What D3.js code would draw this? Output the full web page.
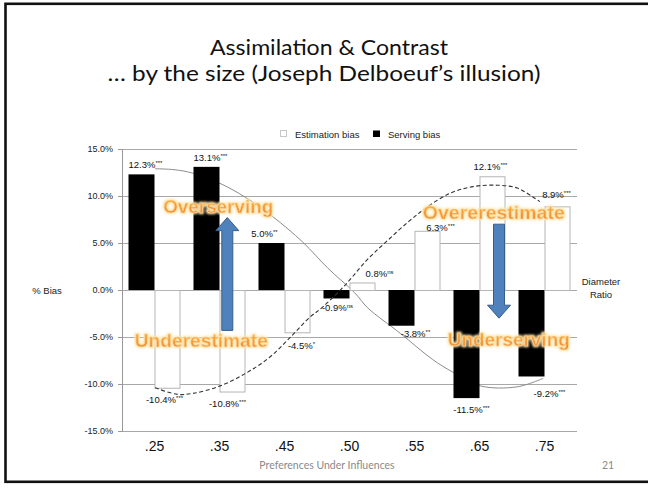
<!DOCTYPE html>
<html>
<head>
<meta charset="utf-8">
<script src="https://cdn.jsdelivr.net/npm/d3@7/dist/d3.min.js"></script>
<style>
  html, body { margin: 0; padding: 0; background: #fff; }
  svg { display: block; }
</style>
</head>
<body>
<svg id="chart" width="648" height="488"></svg>
<script>
// ---- data ----
const categories = [".25", ".35", ".45", ".50", ".55", ".65", ".75"];
const estimationBias = [-10.4, -10.8, -4.5, 0.8, 6.3, 12.1, 8.9];
const servingBias = [12.3, 13.1, 5.0, -0.9, -3.8, -11.5, -9.2];
const estimationSig = ["***", "***", "*", "ns", "***", "***", "***"];
const servingSig = ["***", "***", "**", "ns", "**", "***", "***"];
const yTicks = [-15, -10, -5, 0, 5, 10, 15];
const seriesNames = ["Estimation bias", "Serving bias"];

// hand-drawn trend curves: [category index, % bias]
const servingTrend = [
  [0.01, 12.9], [0.3, 12.8], [0.58, 12.45], [0.99, 11.4], [1.39, 9.9],
  [1.82, 7.8], [2.28, 5.1], [2.67, 2.3], [3.08, -0.3], [3.28, -1.9],
  [3.78, -4.6], [4.28, -7.4], [4.58, -8.7], [5.01, -10.2], [5.58, -10.3],
  [5.98, -9.4]
];
const estimationTrend = [
  [0.01, -10.4], [0.35, -11.1], [0.59, -11.0], [1.01, -10.2], [1.42, -8.8],
  [1.78, -7.1], [2.08, -5.1], [2.39, -2.9], [2.59, -1.8], [2.93, 0.5],
  [3.27, 3.2], [3.59, 5.3], [3.93, 7.4], [4.19, 8.8], [4.55, 10.3],
  [4.9, 11.0], [5.27, 11.15], [5.58, 10.85], [5.82, 9.9], [5.93, 9.4]
];

// annotation arrows: [category index, from %, to %]
const arrows = [
  { idx: 1.12, from: -4.3, to: 7.7 },
  { idx: 5.3, from: 7.0, to: -3.0 }
];
// word-art callouts
const callouts = [
  { text: "Overserving", idx: 0.98, val: 8.2, width: 110 },
  { text: "Underestimate", idx: 0.72, val: -6.1, width: 133 },
  { text: "Overerestimate", idx: 5.22, val: 7.6, width: 142 },
  { text: "Underserving", idx: 5.45, val: -5.95, width: 122 }
];

// ---- layout ----
const svg = d3.select("#chart");
const plotLeft = 122, plotRight = 577, plotTop = 149, plotBottom = 431;

const x = d3.scaleBand().domain(categories).range([plotLeft, plotRight])
  .paddingInner(0.2).paddingOuter(0.1);
const sub = d3.scaleBand().domain(["serving", "estimation"]).range([0, x.bandwidth()]);
const y = d3.scaleLinear().domain([-15, 15]).range([plotBottom, plotTop]);
const xi = d3.scaleLinear().domain([0, categories.length - 1])
  .range([x(categories[0]) + x.bandwidth() / 2, x(categories[categories.length - 1]) + x.bandwidth() / 2]);

const font = "'Liberation Sans', Arial, sans-serif";
const locale = d3.formatLocale({ decimal: ".", thousands: ",", grouping: [3], currency: ["", ""], minus: "-" });
const fmt = locale.format(".1f");

// slide frame
svg.append("rect").attr("x", 5.5).attr("y", 3.8).attr("width", 720).attr("height", 478)
  .attr("fill", "none").attr("stroke", "#111").attr("stroke-width", 2.6);

// title
const title = svg.append("g").attr("font-family", "Lato, 'Open Sans', sans-serif")
  .attr("font-size", 22).attr("fill", "#111").attr("text-anchor", "middle");
title.append("text").attr("x", 329).attr("y", 55)
  .attr("textLength", 238).attr("lengthAdjust", "spacingAndGlyphs")
  .text("Assimilation & Contrast");
title.append("text").attr("x", 324).attr("y", 81)
  .attr("textLength", 433).attr("lengthAdjust", "spacingAndGlyphs")
  .text("… by the size (Joseph Delboeuf’s illusion)");

// defs: word-art gradient and glow
const defs = svg.append("defs");
const grad = defs.append("linearGradient").attr("id", "orangeFill")
  .attr("x1", 0).attr("y1", 0).attr("x2", 0).attr("y2", 1);
grad.append("stop").attr("offset", "0%").attr("stop-color", "#fbb040");
grad.append("stop").attr("offset", "45%").attr("stop-color", "#f7a13a");
grad.append("stop").attr("offset", "55%").attr("stop-color", "#f39a3e");
grad.append("stop").attr("offset", "100%").attr("stop-color", "#ee8a30");
const glow = defs.append("filter").attr("id", "glow")
  .attr("x", "-10%").attr("y", "-30%").attr("width", "120%").attr("height", "160%");
glow.append("feMorphology").attr("in", "SourceAlpha").attr("operator", "dilate").attr("radius", 1.2).attr("result", "d");
glow.append("feGaussianBlur").attr("in", "d").attr("stdDeviation", 1.2).attr("result", "b");
glow.append("feFlood").attr("flood-color", "#fde6b0").attr("flood-opacity", 0.95);
glow.append("feComposite").attr("in2", "b").attr("operator", "in").attr("result", "g");
const gm = glow.append("feMerge");
gm.append("feMergeNode").attr("in", "g");
gm.append("feMergeNode").attr("in", "SourceGraphic");

// gridlines
svg.append("g").selectAll("line").data(yTicks).join("line")
  .attr("x1", plotLeft).attr("x2", plotRight)
  .attr("y1", d => y(d)).attr("y2", d => y(d))
  .attr("stroke", "#a8a8a8").attr("stroke-width", 1).attr("shape-rendering", "crispEdges");

// y axis
const yAxis = svg.append("g").attr("transform", `translate(${plotLeft},0)`)
  .call(d3.axisLeft(y).tickValues(yTicks).tickSize(4).tickFormat(d => fmt(d) + "%"));
yAxis.select(".domain").attr("stroke", "#999");
yAxis.selectAll(".tick line").attr("stroke", "#999");
yAxis.selectAll(".tick text").attr("font-family", font).attr("font-size", 9)
  .attr("fill", "#222").attr("x", -9);

// x axis labels
const xAxis = svg.append("g").attr("transform", `translate(0,${plotBottom})`)
  .call(d3.axisBottom(x).tickSize(0).tickPadding(10));
xAxis.select(".domain").remove();
xAxis.selectAll(".tick text").attr("font-family", font).attr("font-size", 14)
  .attr("fill", "#111").attr("dy", "0.71em");

// solid trend (behind bars)
const line = d3.line().x(d => xi(d[0])).y(d => y(d[1])).curve(d3.curveCatmullRom.alpha(0.5));
svg.append("path").datum(servingTrend).attr("d", line)
  .attr("fill", "none").attr("stroke", "#8c8c8c").attr("stroke-width", 1);

// bars
const rows = categories.map((c, i) => ({ c, i, est: estimationBias[i], serv: servingBias[i] }));
svg.append("g").selectAll("rect").data(rows).join("rect")
  .attr("x", d => x(d.c) + sub("serving"))
  .attr("y", d => y(Math.max(0, d.serv)))
  .attr("width", sub.bandwidth())
  .attr("height", d => Math.abs(y(d.serv) - y(0)))
  .attr("fill", "#000");
svg.append("g").selectAll("rect").data(rows).join("rect")
  .attr("x", d => x(d.c) + sub("estimation") + 0.5)
  .attr("y", d => y(Math.max(0, d.est)) + 0.5)
  .attr("width", sub.bandwidth() - 1)
  .attr("height", d => Math.abs(y(d.est) - y(0)))
  .attr("fill", "#fff").attr("stroke", "#b5b5b5").attr("stroke-width", 1);

// dashed trend (in front)
svg.append("path").datum(estimationTrend).attr("d", line)
  .attr("fill", "none").attr("stroke", "#333").attr("stroke-width", 1.1)
  .attr("stroke-dasharray", "4,2.5");

// value labels with significance marks
const servNudge = [[4, 0], [4, 0], [-7, 0], [1, -2], [14, -4], [5, 0], [18, 6]];
const estNudge = [[-3, 0], [-5, 0], [4, 2], [17, 1], [13, 6.5], [-2, 0], [-1, -2]];
function drawLabels(vals, sigs, key, nudge) {
  const g = svg.append("g").attr("font-family", font).attr("fill", "#111");
  vals.forEach((v, i) => {
    const cx = x(categories[i]) + sub(key) + sub.bandwidth() / 2 + nudge[i][0];
    const yy = v >= 0 ? y(v) - 6 : y(v) + 15;
    const t = g.append("text").attr("x", cx).attr("y", yy + nudge[i][1])
      .attr("text-anchor", "middle").attr("font-size", 9.5);
    t.append("tspan").text(fmt(v) + "%");
    t.append("tspan").attr("font-size", 6).attr("dy", -3).text(sigs[i]);
  });
}
drawLabels(servingBias, servingSig, "serving", servNudge);
drawLabels(estimationBias, estimationSig, "estimation", estNudge);

// axis titles
svg.append("text").attr("x", 47).attr("y", 294).attr("text-anchor", "middle")
  .attr("font-family", font).attr("font-size", 9.5).attr("fill", "#222").text("% Bias");
const dr = svg.append("text").attr("text-anchor", "middle")
  .attr("font-family", font).attr("font-size", 9.5).attr("fill", "#222");
dr.append("tspan").attr("x", 601).attr("y", 285).text("Diameter");
dr.append("tspan").attr("x", 601).attr("y", 297.5).text("Ratio");

// legend
const lg = svg.append("g").attr("font-family", font).attr("font-size", 9.5).attr("fill", "#222");
lg.append("rect").attr("x", 280.5).attr("y", 130.5).attr("width", 6).attr("height", 6)
  .attr("fill", "#fff").attr("stroke", "#c8c8c8");
lg.append("text").attr("x", 295).attr("y", 137.5).text(seriesNames[0]);
lg.append("rect").attr("x", 373).attr("y", 130.5).attr("width", 7).attr("height", 6.5).attr("fill", "#000");
lg.append("text").attr("x", 388).attr("y", 137.5).text(seriesNames[1]);

// blue arrows
const shaftW = 11, headW = 23, headL = 13;
arrows.forEach(a => {
  const cx = xi(a.idx), y0 = y(a.from), y1 = y(a.to);
  const dir = y1 < y0 ? -1 : 1;
  const hb = y1 - dir * headL;
  const pts = [
    [cx - shaftW / 2, y0], [cx - shaftW / 2, hb], [cx - headW / 2, hb], [cx, y1],
    [cx + headW / 2, hb], [cx + shaftW / 2, hb], [cx + shaftW / 2, y0]
  ];
  svg.append("path").attr("d", "M" + pts.map(p => p.join(",")).join("L") + "Z")
    .attr("fill", "#4f81bd").attr("stroke", "#385d8a").attr("stroke-width", 1);
});

// word-art callouts
svg.append("g").selectAll("text").data(callouts).join("text")
  .attr("x", d => xi(d.idx)).attr("y", d => y(d.val))
  .attr("text-anchor", "middle")
  .attr("font-family", font).attr("font-weight", "bold").attr("font-size", 19)
  .attr("textLength", d => d.width).attr("lengthAdjust", "spacingAndGlyphs")
  .attr("fill", "url(#orangeFill)").attr("stroke", "#fcd79a").attr("stroke-width", 0.6)
  .attr("filter", "url(#glow)")
  .text(d => d.text);

// footer
svg.append("text").attr("x", 327).attr("y", 469).attr("text-anchor", "middle")
  .attr("font-family", "Lato, 'Open Sans', sans-serif").attr("font-size", 10.5).attr("fill", "#8a8a8a")
  .text("Preferences Under Influences");
svg.append("text").attr("x", 608).attr("y", 469).attr("text-anchor", "middle")
  .attr("font-family", "Lato, 'Open Sans', sans-serif").attr("font-size", 10.5).attr("fill", "#8a8a8a")
  .text("21");
</script>
</body>
</html>
